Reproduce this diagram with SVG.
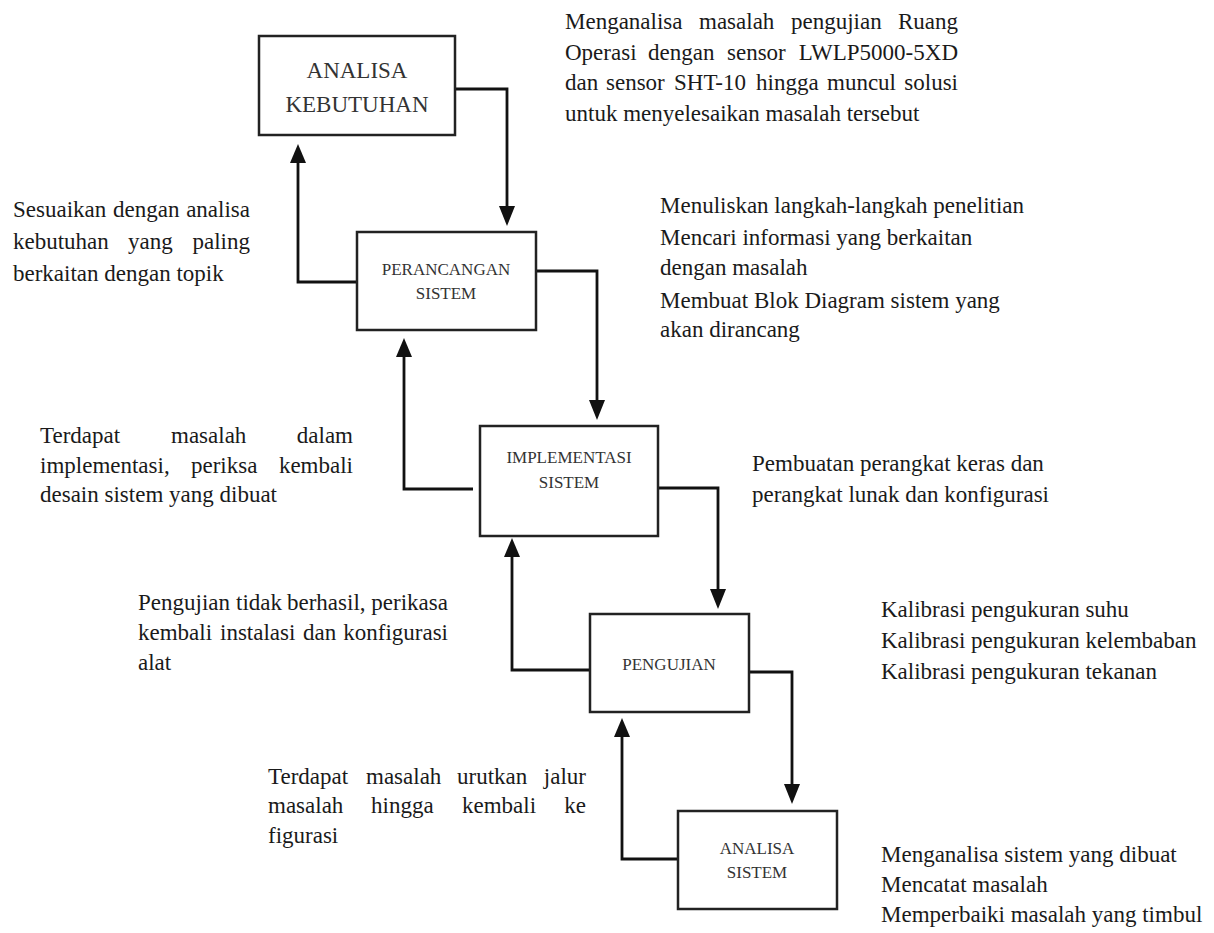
<svg xmlns="http://www.w3.org/2000/svg" width="1214" height="933" viewBox="0 0 1214 933">
<style>
.box{fill:#fff;stroke:#222;stroke-width:2.5}
.bt{font-family:"Liberation Serif","Times New Roman",serif;fill:#333;text-anchor:middle}
.big{font-size:23px}
.sm{font-size:17px}
.t{font-family:"Liberation Serif","Times New Roman",serif;font-size:23px;fill:#1a1a1a}
.e{text-anchor:end}
.c{fill:none;stroke:#111;stroke-width:2.8}
.ah{fill:#111}
</style>
<rect width="1214" height="933" fill="#fff"/>

<g id="connectors">
<path class="c" d="M455,89 H507 V206"/>
<path class="ah" d="M499,206 H515 L507,226 Z"/>
<path class="c" d="M357,282 H298 V163"/>
<path class="ah" d="M290,163 H306 L298,144 Z"/>
<path class="c" d="M536,271 H597 V400"/>
<path class="ah" d="M589,400 H605 L597,420 Z"/>
<path class="c" d="M473,489 H404 V357"/>
<path class="ah" d="M396,357 H412 L404,338 Z"/>
<path class="c" d="M655,488 H718 V589"/>
<path class="ah" d="M710,589 H726 L718,609 Z"/>
<path class="c" d="M590,670 H512 V557"/>
<path class="ah" d="M504,557 H520 L512,538 Z"/>
<path class="c" d="M749,672 H792 V784"/>
<path class="ah" d="M784,784 H800 L792,804 Z"/>
<path class="c" d="M678,859 H622 V737"/>
<path class="ah" d="M614,737 H630 L622,718 Z"/>
</g>

<g id="analisa-kebutuhan">
<rect class="box" x="259" y="36" width="196" height="99"/>
<text class="bt big" x="357" y="78">ANALISA</text>
<text class="bt big" x="357" y="112">KEBUTUHAN</text>
</g>
<g id="perancangan-sistem">
<rect class="box" x="357" y="232" width="179" height="98"/>
<text class="bt sm" x="446" y="275">PERANCANGAN</text>
<text class="bt sm" x="446" y="299">SISTEM</text>
</g>
<g id="implementasi-sistem">
<rect class="box" x="480" y="426" width="178" height="110"/>
<text class="bt sm" x="569" y="463">IMPLEMENTASI</text>
<text class="bt sm" x="569" y="488">SISTEM</text>
</g>
<g id="pengujian">
<rect class="box" x="590" y="614" width="159" height="98"/>
<text class="bt sm" x="669" y="670">PENGUJIAN</text>
</g>
<g id="analisa-sistem">
<rect class="box" x="678" y="811" width="159" height="98"/>
<text class="bt sm" x="757" y="854">ANALISA</text>
<text class="bt sm" x="757" y="878">SISTEM</text>
</g>

<g id="note-analisa-kebutuhan">
<text class="t" y="29"><tspan x="565">Menganalisa</tspan><tspan x="699">masalah</tspan><tspan x="791">pengujian</tspan><tspan x="958" class="e">Ruang</tspan></text>
<text class="t" y="60"><tspan x="565">Operasi</tspan><tspan x="648">dengan</tspan><tspan x="727">sensor</tspan><tspan x="958" class="e">LWLP5000-5XD</tspan></text>
<text class="t" y="90"><tspan x="565">dan</tspan><tspan x="606">sensor</tspan><tspan x="674">SHT-10</tspan><tspan x="756">hingga</tspan><tspan x="827">muncul</tspan><tspan x="958" class="e">solusi</tspan></text>
<text class="t" x="565" y="121">untuk menyelesaikan masalah tersebut</text>
</g>

<g id="note-sesuaikan">
<text class="t" y="217"><tspan x="13">Sesuaikan</tspan><tspan x="113">dengan</tspan><tspan x="250" class="e">analisa</tspan></text>
<text class="t" y="249"><tspan x="13">kebutuhan</tspan><tspan x="128">yang</tspan><tspan x="250" class="e">paling</tspan></text>
<text class="t" x="13" y="281">berkaitan dengan topik</text>
</g>

<g id="note-perancangan">
<text class="t" x="660" y="213">Menuliskan langkah-langkah penelitian</text>
<text class="t" x="660" y="245">Mencari informasi yang berkaitan</text>
<text class="t" x="660" y="275">dengan masalah</text>
<text class="t" x="660" y="308">Membuat Blok Diagram sistem yang</text>
<text class="t" x="660" y="337">akan dirancang</text>
</g>

<g id="note-terdapat-implementasi">
<text class="t" y="443"><tspan x="40">Terdapat</tspan><tspan x="171">masalah</tspan><tspan x="353" class="e">dalam</tspan></text>
<text class="t" y="473"><tspan x="40">implementasi,</tspan><tspan x="191">periksa</tspan><tspan x="353" class="e">kembali</tspan></text>
<text class="t" x="40" y="502">desain sistem yang dibuat</text>
</g>

<g id="note-pembuatan">
<text class="t" x="752" y="471">Pembuatan perangkat keras dan</text>
<text class="t" x="752" y="502">perangkat lunak dan konfigurasi</text>
</g>

<g id="note-pengujian-gagal">
<text class="t" y="610"><tspan x="138">Pengujian</tspan><tspan x="236">tidak</tspan><tspan x="287">berhasil,</tspan><tspan x="448" class="e">perikasa</tspan></text>
<text class="t" y="640"><tspan x="138">kembali</tspan><tspan x="220">instalasi</tspan><tspan x="303">dan</tspan><tspan x="448" class="e">konfigurasi</tspan></text>
<text class="t" x="138" y="670">alat</text>
</g>

<g id="note-kalibrasi">
<text class="t" x="881" y="617">Kalibrasi pengukuran suhu</text>
<text class="t" x="881" y="648">Kalibrasi pengukuran kelembaban</text>
<text class="t" x="881" y="679">Kalibrasi pengukuran tekanan</text>
</g>

<g id="note-terdapat-urutkan">
<text class="t" y="784"><tspan x="268">Terdapat</tspan><tspan x="366">masalah</tspan><tspan x="457">urutkan</tspan><tspan x="586" class="e">jalur</tspan></text>
<text class="t" y="813"><tspan x="268">masalah</tspan><tspan x="371">hingga</tspan><tspan x="462">kembali</tspan><tspan x="586" class="e">ke</tspan></text>
<text class="t" x="268" y="843">figurasi</text>
</g>

<g id="note-analisa-sistem">
<text class="t" x="881" y="862">Menganalisa sistem yang dibuat</text>
<text class="t" x="881" y="892">Mencatat masalah</text>
<text class="t" x="881" y="922">Memperbaiki masalah yang timbul</text>
</g>
</svg>
